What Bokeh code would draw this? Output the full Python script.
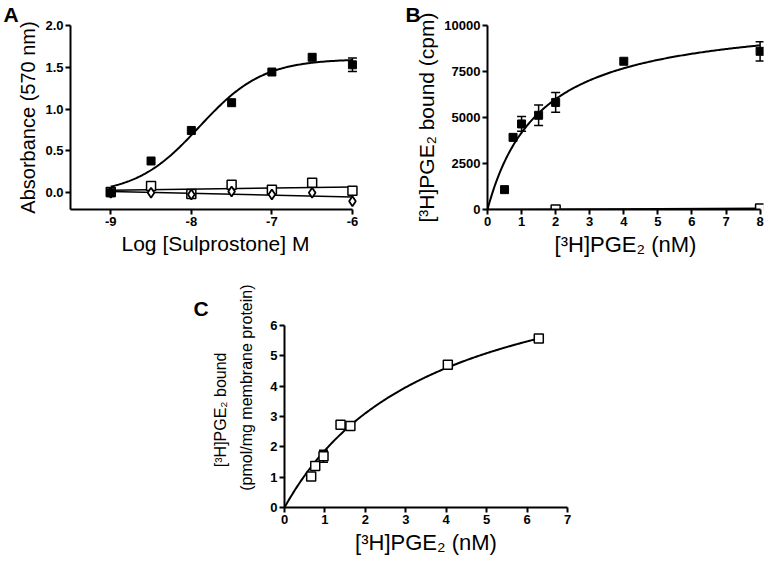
import numpy as np
from bokeh.plotting import figure
from bokeh.models import Range1d, FixedTicker, Whisker, ColumnDataSource, TeeHead
from bokeh.layouts import column, row
from bokeh.embed import file_html
from bokeh.resources import INLINE

FONT = "Liberation Sans"

# ---------------- Panel A data ----------------
a_logconc = [-9, -8.5, -8, -7.5, -7, -6.5, -6]
a_filled = [0.0, 0.38, 0.745, 1.077, 1.444, 1.62, 1.53]
a_filled_err = [0, 0, 0, 0, 0, 0, 0.08]
a_open_sq = [0.01, 0.08, -0.015, 0.095, 0.035, 0.12, 0.025]
a_open_dia = [0.0, 0.0, -0.02, 0.015, -0.02, 0.0, -0.10]
a_fit_bottom, a_fit_top, a_fit_logec50, a_fit_hill = -0.02, 1.60, -7.9, 1.1
a_xticks = [-9, -8, -7, -6]
a_xtick_labels = ["-9", "-8", "-7", "-6"]
a_yticks = [0, 0.5, 1.0, 1.5, 2.0]
a_ytick_labels = ["0.0", "0.5", "1.0", "1.5", "2.0"]

# ---------------- Panel B data ----------------
b_conc = [0.5, 0.75, 1, 1.5, 2, 4, 8]
b_total = [1080, 3920, 4650, 5120, 5820, 8057, 8597]
b_total_err = [0, 0, 400, 560, 540, 0, 520]
b_ns_conc = [2, 8]
b_ns = [0, 50]
b_fit_bmax, b_fit_kd = 10650, 1.55
b_xticks = [0, 1, 2, 3, 4, 5, 6, 7, 8]
b_yticks = [0, 2500, 5000, 7500, 10000]

# ---------------- Panel C data ----------------
c_conc = [0.66, 0.76, 0.965, 1.386, 1.63, 4.04, 6.29]
c_bound = [1.02, 1.37, 1.69, 2.73, 2.69, 4.71, 5.57]
c_err = [0, 0, 0.2, 0, 0, 0, 0]
c_fit_bmax, c_fit_kd = 8.85, 3.7
c_xticks = [0, 1, 2, 3, 4, 5, 6, 7]
c_yticks = [0, 1, 2, 3, 4, 5, 6]


def style(p, xticks, yticks, xlabels=None, ylabels=None):
    p.grid.visible = False
    p.outline_line_color = None
    p.background_fill_color = "white"
    p.border_fill_color = "white"
    p.xaxis.ticker = FixedTicker(ticks=xticks)
    p.yaxis.ticker = FixedTicker(ticks=yticks)
    if xlabels:
        p.xaxis.major_label_overrides = {t: l for t, l in zip(xticks, xlabels)}
    if ylabels:
        p.yaxis.major_label_overrides = {t: l for t, l in zip(yticks, ylabels)}
    for ax in (p.xaxis, p.yaxis):
        ax.axis_line_width = 2
        ax.axis_line_color = "black"
        ax.major_tick_line_width = 2
        ax.major_tick_line_color = "black"
        ax.major_tick_out = 5
        ax.major_tick_in = 0
        ax.minor_tick_line_color = None
        ax.major_label_text_font = FONT
        ax.major_label_text_font_style = "bold"
        ax.major_label_text_font_size = "13px"
        ax.major_label_text_color = "black"
        ax.major_label_standoff = 2
        ax.axis_label_text_font = FONT
        ax.axis_label_text_font_style = "normal"
        ax.axis_label_text_color = "black"
        ax.axis_label_standoff = 3
    p.xaxis.axis_label_text_font_size = "22px"


def panel_letter(p, txt, offset):
    p.title.text = txt
    p.title.align = "left"
    p.title.offset = offset
    p.title.standoff = 0
    p.title.text_font = FONT
    p.title.text_font_style = "bold"
    p.title.text_font_size = "21px"
    p.title.text_color = "black"


def errorbars(p, xs, ys, errs):
    xx = [x for x, e in zip(xs, errs) if e > 0]
    up = [y + e for y, e in zip(ys, errs) if e > 0]
    lo = [y - e for y, e in zip(ys, errs) if e > 0]
    src = ColumnDataSource(dict(x=xx, upper=up, lower=lo))
    w = Whisker(source=src, base="x", upper="upper", lower="lower", dimension="height",
                line_width=1.5, line_color="black",
                upper_head=TeeHead(size=9, line_width=1.5, line_color="black"),
                lower_head=TeeHead(size=9, line_width=1.5, line_color="black"))
    p.add_layout(w)


# ---------------- Panel A ----------------
pA = figure(width=380, height=260, x_range=Range1d(-9.5, -5.9), y_range=Range1d(-0.2, 2.0),
            output_backend="svg", toolbar_location=None,
            min_border_left=70, min_border_right=20, min_border_top=23, min_border_bottom=51)
style(pA, a_xticks, a_yticks, a_xtick_labels, a_ytick_labels)
panel_letter(pA, "A", -67)
pA.xaxis.bounds = (-9.5, -6)
pA.yaxis.bounds = (-0.2, 2.0)
pA.xaxis.axis_label = "Log [Sulprostone] M"
pA.xaxis.axis_label_text_font_size = "21px"
pA.yaxis.axis_label = "Absorbance (570 nm)"
pA.yaxis.axis_label_text_font_size = "20px"

xa = np.linspace(min(a_logconc), max(a_logconc), 200)
ya = a_fit_bottom + (a_fit_top - a_fit_bottom) / (1 + 10 ** ((a_fit_logec50 - xa) * a_fit_hill))
pA.line(xa, ya, line_width=2, line_color="black")
xl = np.array([min(a_logconc), max(a_logconc)])
k1 = np.polyfit(a_logconc, a_open_sq, 1)
k2 = np.polyfit(a_logconc, a_open_dia, 1)
pA.line(xl, np.polyval(k1, xl), line_width=1.5, line_color="black")
pA.line(xl, np.polyval(k2, xl), line_width=1.5, line_color="black")
errorbars(pA, a_logconc, a_filled, a_filled_err)
pA.scatter(a_logconc, a_open_sq, marker="square", size=9, fill_color="white",
           line_color="black", line_width=1.5)
pA.scatter(a_logconc, a_open_dia, marker="diamond", size=10, fill_color="white",
           line_color="black", line_width=1.8)
pA.scatter(a_logconc, a_filled, marker="square", size=8, fill_color="black", line_color="black")

# ---------------- Panel B ----------------
pB = figure(width=386, height=260, x_range=Range1d(0, 8.1), y_range=Range1d(0, 10000),
            output_backend="svg", toolbar_location=None,
            min_border_left=107, min_border_right=3, min_border_top=24, min_border_bottom=51)
style(pB, b_xticks, b_yticks)
panel_letter(pB, "B", -82)
pB.xaxis.bounds = (0, 8)
pB.xaxis.axis_label = "[³H]PGE₂ (nM)"
pB.yaxis.axis_label = "[³H]PGE₂ bound (cpm)"
pB.yaxis.axis_label_text_font_size = "21px"

xb = np.linspace(0, max(b_conc), 200)
pB.line(xb, b_fit_bmax * xb / (b_fit_kd + xb), line_width=2, line_color="black")
kb = np.polyfit(b_ns_conc, b_ns, 1)
xbl = np.array([0, max(b_conc)])
pB.line(xbl, np.polyval(kb, xbl), line_width=2, line_color="black")
errorbars(pB, b_conc, b_total, b_total_err)
pB.scatter(b_conc, b_total, marker="square", size=8, fill_color="black", line_color="black")
pB.scatter(b_ns_conc, b_ns, marker="square", size=9, fill_color="white",
           line_color="black", line_width=1.5)

# ---------------- Panel C ----------------
pC = figure(width=587, height=297, x_range=Range1d(0, 7), y_range=Range1d(0, 6),
            output_backend="svg", toolbar_location=None,
            min_border_left=284, min_border_right=20, min_border_top=65, min_border_bottom=46)
style(pC, c_xticks, c_yticks)
panel_letter(pC, "C", -91)
pC.title.standoff = 12
pC.xaxis.axis_label = "[³H]PGE₂ (nM)"
NB = "\u00a0"
pC.yaxis.axis_label = NB * 3 + "[³H]PGE₂ bound\n" + NB * 13 + "(pmol/mg membrane protein)"
pC.yaxis.axis_label_text_font_size = "16px"
pC.yaxis.axis_label_text_line_height = 1.55
pC.yaxis.axis_label_standoff = 12

xc = np.linspace(0, max(c_conc), 200)
pC.line(xc, c_fit_bmax * xc / (c_fit_kd + xc), line_width=2, line_color="black")
errorbars(pC, c_conc, c_bound, c_err)
pC.scatter(c_conc, c_bound, marker="square", size=9, fill_color="white",
           line_color="black", line_width=1.5)

layout = column(row(pA, pB), pC)
open("out.html", "w").write(file_html(layout, INLINE))
